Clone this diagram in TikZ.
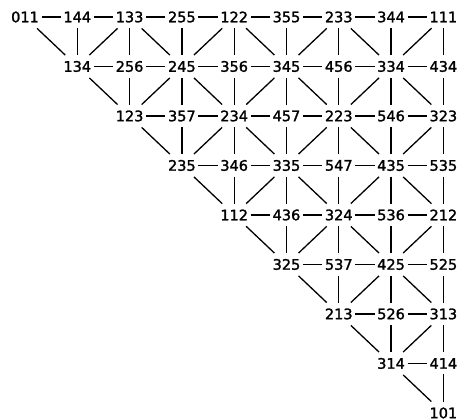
\documentclass[tikz,border=0pt]{standalone}
\usepackage{fontspec}
\setmainfont[FakeBold=1.6]{DejaVu Sans}

\begin{document}
\begin{tikzpicture}[
        x=52.3pt,
        y=-49.5pt,
        vertex/.style={
            inner xsep=2pt,
            inner ysep=3pt,
            font=\fontsize{14.5}{16}\selectfont
        },
        link/.style={
            line width=1.3pt
        },
        hlink/.style={
            link,
            shorten >=0.5pt,
            shorten <=0.5pt
        },
        vlink/.style={
            link,
            shorten >=2.5pt,
            shorten <=2.5pt
        },
        dlink/.style={
            link,
            shorten >=4pt,
            shorten <=4pt
        }
    ]

        \useasboundingbox (-0.478,-0.343) rectangle (8.337,8.121);

        % rows of the triangle, row r holds columns r..8
        \foreach \r/\labels in {
                0/{011,144,133,255,122,355,233,344,111},
                1/{134,256,245,356,345,456,334,434},
                2/{123,357,234,457,223,546,323},
                3/{235,346,335,547,435,535},
                4/{112,436,324,536,212},
                5/{325,537,425,525},
                6/{213,526,313},
                7/{314,414},
                8/{101}} {
            \foreach \lbl [count=\c from \r] in \labels {
                \node[vertex] (n\r-\c) at (\c,\r) {\lbl};
            }
        }

        % horizontal, vertical and diagonal links
        \foreach \r in {0,...,7} {
            \pgfmathtruncatemacro{\rn}{\r+1}
            \foreach \c in {\r,...,8} {
                \pgfmathtruncatemacro{\cleft}{\c-1}
                \pgfmathtruncatemacro{\cright}{\c+1}
                \pgfmathtruncatemacro{\parity}{mod(\r+\c,2)}
                \ifnum\c<8
                    \draw[hlink] (n\r-\c) -- (n\r-\cright);
                \fi
                \ifnum\c>\r
                    \draw[vlink] (n\r-\c) -- (n\rn-\c);
                \fi
                \ifnum\parity=0
                    \ifnum\c>\rn
                        \draw[dlink] (n\r-\c) -- (n\rn-\cleft);
                    \fi
                    \ifnum\c<8
                        \draw[dlink] (n\r-\c) -- (n\rn-\cright);
                    \fi
                \fi
            }
        }

    \end{tikzpicture}
\end{document}
